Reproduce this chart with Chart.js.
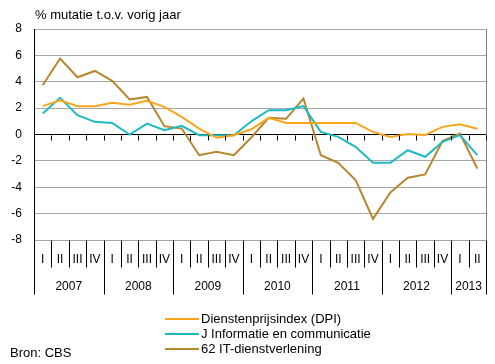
<!DOCTYPE html>
<html><head><meta charset="utf-8">
<script src="https://cdn.jsdelivr.net/npm/chart.js@4.4.0/dist/chart.umd.min.js"></script>
<style>html,body{margin:0;padding:0;background:#fff}canvas{display:block}</style>
</head><body>
<canvas id="c" width="495" height="364"></canvas>
<script>
const quarters = ['I','II','III','IV','I','II','III','IV','I','II','III','IV','I','II','III','IV','I','II','III','IV','I','II','III','IV','I','II'];
const years = ['2007','2008','2009','2010','2011','2012','2013'];
const yearQuarters = [4,4,4,4,4,4,2];
const yTicks = [-8,-6,-4,-2,0,2,4,6,8];
const dpi = [2.15,2.6,2.15,2.15,2.4,2.25,2.55,2.1,1.34,0.45,-0.25,-0.05,0.4,1.26,0.88,0.88,0.88,0.88,0.88,0.2,-0.18,0.03,-0.03,0.58,0.78,0.43];
const jInfo = [1.6,2.78,1.46,0.96,0.88,0.0,0.83,0.33,0.66,-0.05,-0.05,-0.05,1.0,1.84,1.84,2.15,0.2,-0.18,-0.93,-2.15,-2.15,-1.19,-1.69,-0.56,-0.05,-1.57];
const it62 = [3.74,5.76,4.34,4.82,4.07,2.65,2.85,0.63,0.45,-1.57,-1.31,-1.57,-0.23,1.26,1.19,2.73,-1.57,-2.15,-3.46,-6.4,-4.4,-3.28,-3.03,-0.5,0.08,-2.58];
const seriesNames = ['Dienstenprijsindex (DPI)','J Informatie en communicatie','62 IT-dienstverlening'];
const colors = ['#f8a51c','#1fb9c3','#b8862f'];
const FONT = '"Liberation Sans", Arial, sans-serif';

const decor = {
  id:'decor',
  afterDraw(chart){
    const ctx = chart.ctx, a = chart.chartArea, x = chart.scales.x, y = chart.scales.y;
    const n = quarters.length;
    const w = (a.right - a.left)/n;
    const y0 = Math.round(y.getPixelForValue(0)) + 0.5;
    const yb = Math.round(y.getPixelForValue(-8)) + 0.5;
    ctx.save();
    ctx.strokeStyle = '#808080'; ctx.lineWidth = 1;
    ctx.beginPath(); ctx.moveTo(Math.round(a.right)+0.5, a.top); ctx.lineTo(Math.round(a.right)+0.5, yb); ctx.stroke();
    ctx.strokeStyle = '#000';
    ctx.beginPath();
    for (let i=1;i<=n;i++){
      const xx = Math.round(x.getPixelForValue(i-1) + w/2) + 0.5;
      ctx.moveTo(xx, y0); ctx.lineTo(xx, y0+5);
    }
    ctx.stroke();
    const bounds = new Set([0]);
    let acc = 0; yearQuarters.forEach(q=>{acc+=q; bounds.add(acc);});
    ctx.beginPath();
    for (let i=0;i<=n;i++){
      const xx = Math.round(i===0 ? a.left : x.getPixelForValue(i-1) + w/2) + 0.5;
      ctx.moveTo(xx, yb); ctx.lineTo(xx, bounds.has(i) ? yb+54 : yb+27);
    }
    ctx.stroke();
    ctx.fillStyle = '#000'; ctx.font = '12px ' + FONT; ctx.textAlign = 'center'; ctx.textBaseline = 'middle';
    quarters.forEach((q,i)=>ctx.fillText(q, x.getPixelForValue(i), yb+19));
    let start = 0;
    years.forEach((yr,k)=>{
      const c = (x.getPixelForValue(start) + x.getPixelForValue(start+yearQuarters[k]-1))/2;
      ctx.fillText(yr, c, yb+46);
      start += yearQuarters[k];
    });
    ctx.font = '13px ' + FONT;
    ctx.textAlign = 'left';
    ctx.fillText('% mutatie t.o.v. vorig jaar', 35, 15);
    seriesNames.forEach((s,i)=>{
      const ly = 319 + i*15;
      ctx.strokeStyle = colors[i]; ctx.lineWidth = 2;
      ctx.beginPath(); ctx.moveTo(165, ly); ctx.lineTo(199, ly); ctx.stroke();
      ctx.fillText(s, 201, ly);
    });
    ctx.fillText('Bron: CBS', 10, 353);
    ctx.restore();
  }
};

new Chart(document.getElementById('c'), {
  type:'line',
  data:{
    labels: quarters.map((q,i)=>i),
    datasets:[dpi,jInfo,it62].map((d,i)=>({label:seriesNames[i], data:d, borderColor:colors[i], backgroundColor:colors[i], borderWidth:2, pointRadius:0, tension:0, fill:false}))
  },
  options:{
    responsive:false, animation:false, devicePixelRatio:1,
    layout:{padding:{left:0,right:9,top:29,bottom:124}},
    plugins:{legend:{display:false}, tooltip:{enabled:false}},
    scales:{
      x:{type:'category', offset:true, display:false},
      y:{min:-8,max:8,
        afterBuildTicks(s){ s.ticks = yTicks.map(v=>({value:v})); },
        afterFit(s){ s.width = 34; },
        ticks:{color:'#000', font:{family:FONT,size:12}, padding:12},
        grid:{drawTicks:false, color:c=>c.tick && c.tick.value===0 ? '#000' : '#a6a6a6'},
        border:{display:true,color:'#000'}
      }
    }
  },
  plugins:[decor]
});
</script>
</body></html>
